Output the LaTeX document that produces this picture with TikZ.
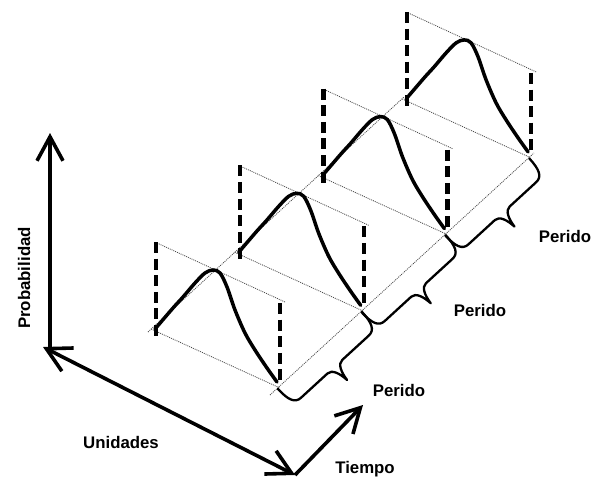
\documentclass[tikz,border=0pt]{standalone}
\usepackage{fontspec}
\setmainfont{Liberation Sans}
\usetikzlibrary{arrows.meta,calc}
\begin{document}
\begin{tikzpicture}[x=1pt,y=-1pt,
  axis/.style={line width=3.6pt},
  barbtip/.style={-{Straight Barb[length=24pt,width=26pt]}},
  curve/.style={line width=3.5pt, line cap=round},
  vdash/.style={line width=4.4pt, dash pattern=on 11pt off 5.6pt},
  guide/.style={line width=0.8pt, black!70, dash pattern=on 1pt off 1pt},
  bracestyle/.style={line width=2.3pt, line join=round, line cap=round},
  lbl/.style={font=\fontsize{16.8}{20}\selectfont\bfseries, inner sep=0pt, anchor=base}
]
\useasboundingbox (0,0) rectangle (594,477);

% axes
\coordinate (O) at (43,347);
\coordinate (V0) at (50,347);
\coordinate (Vt) at (50,133);
\coordinate (U) at (295,475);
\coordinate (Tt) at (363,405);
\draw[axis, barbtip] (V0) -- (Vt);
\draw[axis, {Straight Barb[length=24pt,width=26pt]}-{Straight Barb[length=24pt,width=26pt]}] (O) -- (U);
\draw[axis, barbtip] (U) -- (Tt);

% diagonal guides along time
\coordinate (L0) at (148,332);
\coordinate (L3) at (404,97);
\coordinate (R0) at (270,395);
\coordinate (R3) at (534,153);
\draw[guide] (L0) -- (L3);
\draw[guide] (R0) -- (R3);

% panels
\foreach \k in {0,1,2,3} {
  \begin{scope}[shift={(83.7*\k,-76.7*\k)}]
    \draw[guide] (157,243) -- (285,302);
    \draw[guide] (151,329) -- (280,388);
    \draw[vdash] (156,242) -- (156,337);
    \draw[vdash] (280,303) -- (280,380);
    \draw[curve] plot[smooth, tension=0.55] coordinates {(155,329) (173,308) (183,297) (195,283) (205,273) (213,270) (220,273) (227,287) (235,310) (245,333) (255,350) (267,368) (277,382)};
  \end{scope}
}

% braces
\foreach \k in {0,1,2} {
  \begin{scope}[shift={(278+83.7*\k,389-76.7*\k)}, x={(0.737pt,0.676pt)}, y={(0.676pt,-0.737pt)}]
    \draw[bracestyle] (0,0) .. controls (0,15) and (3,22) .. (11,22) -- (47,22)
      .. controls (53,22) and (56,30) .. (57,40)
      .. controls (58,30) and (61,22) .. (67,22) -- (103,22)
      .. controls (111,22) and (114,15) .. (114,0);
  \end{scope}
}

% labels
\node[lbl, rotate=90] (prob) at (30,278) {Probabilidad};
\node[lbl] (unid) at (121,448) {Unidades};
\node[lbl] (tiem) at (365,473) {Tiempo};
\node[lbl] (p1) at (399,396) {Perido};
\node[lbl] (p2) at (480,316) {Perido};
\node[lbl] (p3) at (565,242) {Perido};
\end{tikzpicture}
\end{document}
